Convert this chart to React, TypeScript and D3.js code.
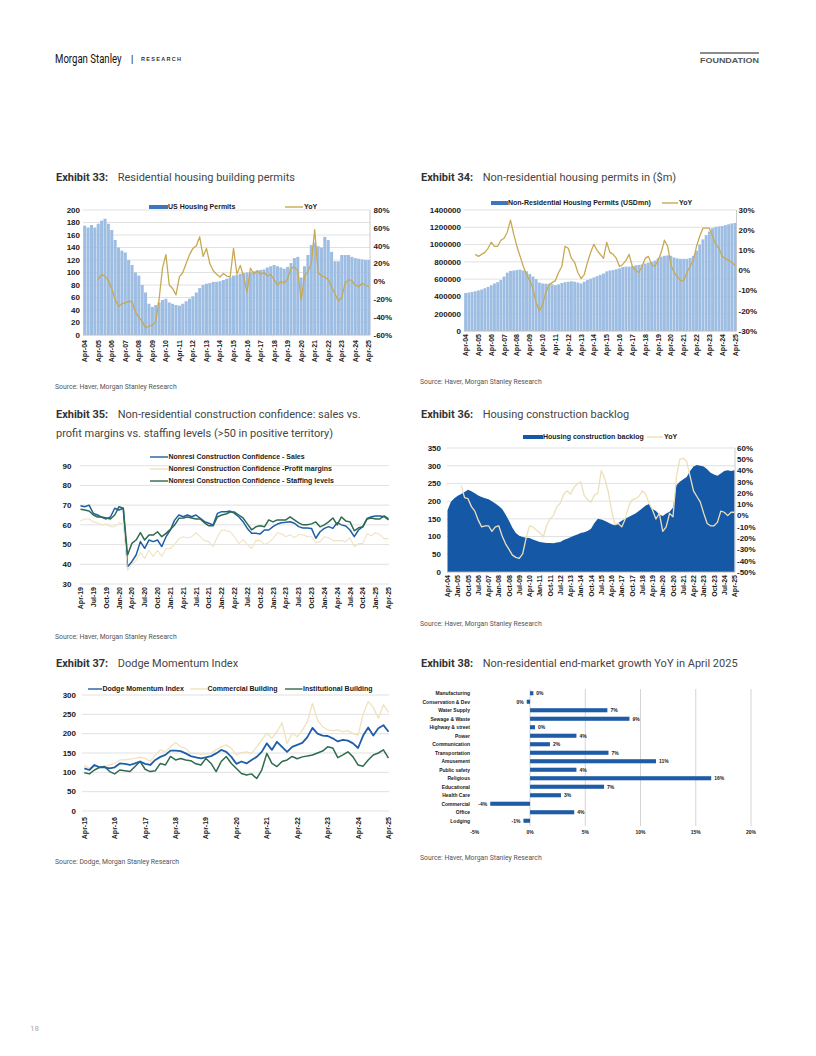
import React from 'react';
import * as d3 from 'd3';

type Pt = number | null;

const W = 816;
const H = 1056;
const FONT = "'Liberation Sans', Arial, sans-serif";
const TITLE_FONT = "Roboto, 'Noto Sans', 'Liberation Sans', sans-serif";
const GRID = '#d9d9d9';
const INK = '#1a1a1a';

// ---------- Exhibit 33: residential permits (quarterly, Apr-04 .. Apr-25) ----------
const permits33 = [
  175, 172, 176,
  172, 178, 183, 186, 178, 168, 152, 140, 135, 132, 120, 112, 100, 95, 80, 68,
  50, 45, 48, 52, 56, 58, 52, 50, 48, 47, 50, 54, 58, 62, 68, 75,
  80, 82, 83, 85, 85, 86, 88, 90, 92, 95, 96, 98, 99, 100, 100, 102,
  103, 104, 105, 108, 110, 112, 110, 108, 106, 109, 115, 123, 125, 92, 110, 128,
  144, 148, 142, 140, 157, 152, 133, 118, 118, 128, 128, 128, 125, 123, 122, 121,
  120, 120,
];
const yoy33: Pt[] = [
  null, null, null,
  null, 2, 8, 6, 1, -8, -20, -28, -25, -24, -22, -23, -34, -40, -45, -52,
  -50, -49, -45, -20, 15, 30, -4, -8, -15, 5, 10, 20, 30, 37, 40, 50,
  28, 37, 20, 12, 8, 5, 9, 6, 5, 37, 8, 18, 5, -12, 15, 8,
  12, 8, 10, 6, 8, 2, -4, 0, -2, 3, 15, 16, 12, -21, 6, 11,
  20, 58, 10, 6, 5, 2, -6, -14, -22, -18, -2, 2, 1, -4, -6, -2,
  -4, -6,
];
const yearLabels04 = [
  'Apr-04', 'Apr-05', 'Apr-06', 'Apr-07', 'Apr-08', 'Apr-09', 'Apr-10', 'Apr-11',
  'Apr-12', 'Apr-13', 'Apr-14', 'Apr-15', 'Apr-16', 'Apr-17', 'Apr-18', 'Apr-19',
  'Apr-20', 'Apr-21', 'Apr-22', 'Apr-23', 'Apr-24', 'Apr-25',
];

// ---------- Exhibit 34: non-residential permits, USDmn in thousands (quarterly) ----------
const nonResPermits34k = [
  440, 445, 452,
  460, 470, 480, 495, 510, 530, 550, 565, 590, 630, 675, 695, 700, 705, 710, 700,
  690, 660, 630, 600, 560, 550, 548, 545, 540, 530, 540, 555, 565, 570, 575, 570,
  560, 550, 570, 590, 605, 620, 635, 650, 665, 690, 700, 705, 715, 725, 740, 745,
  745, 750, 760, 765, 770, 780, 790, 800, 815, 840, 860, 870, 875, 870, 850, 840,
  835, 835, 835, 845, 870, 930, 1000, 1060, 1110, 1150, 1190, 1205, 1210, 1215, 1225, 1235,
  1245, 1250,
];
const yoy34: Pt[] = [
  null, null, null,
  8, 7, 8, 9, 11, 14, 12, 12, 15, 16, 19, 25, 18, 12, 7, 2,
  -2, -5, -9, -16, -20, -17, -11, -7, -6, -5, -1, 2, 12, 11, 6, 4,
  -1, -4, -2, 4, 9, 13, 10, 8, 6, 14, 9, 8, 6, 2, 3, 5,
  8, 2, 0, -1, 2, 6, 7, 3, 2, 5, 9, 15, 12, 3, -1, -3,
  -5, -5, -1, 2, 5, 12, 17, 21, 21, 21, 17, 13, 11, 7, 6, 5,
  4, 2.5,
];

// ---------- Exhibit 35: construction confidence (monthly, Apr-19 .. Apr-25) ----------
const sales35 = [
  69.7, 69.2, 70, 65.8, 65, 63.8, 63, 64, 68.4, 67.5, 68.4, 38.8, 41.3, 44.7, 51.5, 48.1,
  52.3, 51.5, 52.3, 49, 54, 57.4, 62.4, 65, 64.1, 65, 64.1, 65, 63.3, 61.6, 60.8, 59.9,
  65.8, 66.7, 66.7, 67, 65.8, 64.1, 61.6, 58.2, 55.7, 55.7, 55.4, 57.4, 57.4, 59.1, 60.4, 61.1,
  61.3, 61.6, 60.8, 59.1, 58.4, 58.4, 58.2, 53.2, 56.5, 58.2, 59.1, 58.2, 61.1, 60, 59.4, 57.4,
  54, 57.4, 59.1, 63.3, 64.1, 64.5, 64.5, 64.1, 62.5,
];
const profit35 = [
  62, 63, 63, 61.5, 61, 60, 60.5, 59, 59, 61, 60.5, 37, 40, 42, 46, 43,
  47, 44, 47, 44, 48, 48, 50, 53, 54, 53.5, 54, 56, 54, 52, 51.5, 49,
  54, 57.5, 57, 56.5, 54, 50.5, 52.5, 50, 48, 52, 52, 50, 51, 53, 56, 55.5,
  54, 55, 53.5, 55, 55, 54, 54, 51, 51.5, 54, 53.5, 52, 52, 52, 51.5, 53.5,
  49, 50.5, 50.5, 55.5, 54.5, 56, 55, 53, 53,
];
const staffing35 = [
  67.9, 67.5, 67, 65, 64, 64, 63.5, 63, 65, 69.2, 68.4, 44.7, 50.6, 52.3, 56, 52.3,
  54.8, 54.8, 56.5, 54, 55.7, 57.7, 59.9, 63.3, 63.5, 64, 63.5, 63, 63, 61, 59.5, 59.5,
  64, 65, 65.5, 66.5, 66.5, 65, 63.5, 60.5, 57.5, 59, 59.5, 59, 62.5, 61.5, 62.5, 62.5,
  62.5, 64, 62.5, 61, 60, 60, 60.5, 61.5, 59, 60, 61.5, 63.5, 60, 64, 62, 61.5,
  57, 58.5, 59, 63, 63.5, 63, 63, 64.5, 63,
];
const quarterLabels35 = [
  'Apr-19', 'Jul-19', 'Oct-19', 'Jan-20', 'Apr-20', 'Jul-20', 'Oct-20', 'Jan-21', 'Apr-21',
  'Jul-21', 'Oct-21', 'Jan-22', 'Apr-22', 'Jul-22', 'Oct-22', 'Jan-23', 'Apr-23', 'Jul-23',
  'Oct-23', 'Jan-24', 'Apr-24', 'Jul-24', 'Oct-24', 'Jan-25', 'Apr-25',
];

// ---------- Exhibit 36: housing construction backlog (quarterly) ----------
const backlog36 = [
  174, 198, 208, 215, 220, 226, 232, 228, 222, 216, 212, 208, 205, 200, 193, 186, 178, 162, 145, 125,
  110, 102, 99, 97, 96, 92, 88, 85, 83, 82, 82, 81, 83, 85, 90, 94, 98, 102, 106, 110,
  112, 116, 122, 138, 150, 148, 145, 140, 135, 132, 138, 145, 150, 155, 160, 165, 172, 180, 188, 192,
  178, 172, 162, 158, 165, 170, 182, 245, 255, 262, 268, 285, 298, 302, 300, 298, 290, 280, 275, 272,
  278, 285, 287, 285, 287,
];
const yoy36: Pt[] = [
  null, null, null, null, 27, 16, 15, 8, 4, -4, -10, -9, -9, -14, -10, -9, -18, -25, -30, -35,
  -37, -38, -34, -20, -9, -10, -13, -15, -19, -9, -3, 0, 8, 11, 19, 22, 19, 25, 28, 30,
  18, 14, 12, 18, 20, 40, 33, 22, 5, -8, -7, -10, -3, 8, 14, 15, 17, 22, 19, 11,
  5, -3, 2, -14, -10, 2, -1, 35, 50, 51, 48, 35, 22, 17, 12, 2, -7, -9, -9, -6,
  4, 3, 0, 3, 3,
];
const nineMonthLabels36 = [
  'Apr-04', 'Jan-05', 'Oct-05', 'Jul-06', 'Apr-07', 'Jan-08', 'Oct-08', 'Jul-09', 'Apr-10',
  'Jan-11', 'Oct-11', 'Jul-12', 'Apr-13', 'Jan-14', 'Oct-14', 'Jul-15', 'Apr-16', 'Jan-17',
  'Oct-17', 'Jul-18', 'Apr-19', 'Jan-20', 'Oct-20', 'Jul-21', 'Apr-22', 'Jan-23', 'Oct-23',
  'Jul-24', 'Apr-25',
];

// ---------- Exhibit 37: Dodge Momentum Index (every 2 months, Apr-15 .. Apr-25) ----------
const dodge37 = [
  110, 106, 119, 113, 113, 110, 113, 123, 122, 119, 123, 128, 122, 119, 132, 140, 145, 156, 156, 155,
  149, 142, 139, 136, 139, 142, 149, 158, 153, 140, 122, 128, 123, 132, 140, 153, 175, 158, 179, 166,
  153, 166, 171, 176, 191, 215, 200, 195, 194, 188, 180, 184, 182, 175, 163, 195, 216, 195, 214, 222,
  205,
];
const commercial37 = [
  119, 110, 118, 112, 115, 119, 123, 132, 132, 134, 136, 139, 136, 128, 145, 158, 153, 166, 177, 166,
  162, 149, 149, 147, 147, 149, 158, 166, 171, 162, 145, 151, 153, 149, 166, 184, 201, 188, 205, 228,
  175, 201, 192, 209, 231, 278, 235, 218, 210, 208, 210, 205, 208, 200, 196, 250, 283, 268, 240, 275,
  255,
];
const institutional37 = [
  99, 96, 106, 113, 115, 102, 96, 106, 104, 102, 115, 128, 108, 102, 104, 123, 119, 141, 132, 136,
  132, 130, 122, 119, 136, 123, 102, 128, 141, 123, 110, 97, 93, 96, 84, 106, 149, 123, 115, 128,
  132, 141, 135, 140, 142, 145, 150, 155, 166, 163, 138, 145, 153, 140, 119, 116, 132, 145, 150, 158,
  137,
];
const yearLabels15 = [
  'Apr-15', 'Apr-16', 'Apr-17', 'Apr-18', 'Apr-19', 'Apr-20', 'Apr-21', 'Apr-22', 'Apr-23',
  'Apr-24', 'Apr-25',
];

// ---------- Exhibit 38: end-market growth YoY, April 2025 ----------
const endMarkets38 = [
  'Manufacturing', 'Conservation & Dev', 'Water Supply', 'Sewage & Waste', 'Highway & street',
  'Power', 'Communication', 'Transportation', 'Amusement', 'Public safety', 'Religious',
  'Educational', 'Health Care', 'Commercial', 'Office', 'Lodging',
];
const growth38 = [0.3, -0.3, 7.0, 9.0, 0.45, 4.2, 1.8, 7.1, 11.4, 4.2, 16.4, 6.7, 2.8, -3.6, 4.0, -0.6];
const xTicks38 = [-5, 0, 5, 10, 15, 20];

const tickStyle: React.CSSProperties = { fontFamily: FONT, fontSize: 8, fontWeight: 700, fill: INK };
const xTickStyle: React.CSSProperties = { fontFamily: FONT, fontSize: 7, fontWeight: 700, fill: INK };
const legendStyle: React.CSSProperties = { fontFamily: FONT, fontSize: 7, fontWeight: 700, fill: INK };

const RotLabel = ({ x, y, text }: { x: number; y: number; text: string }) => (
  <text transform={`translate(${x + 2.5},${y}) rotate(-90)`} textAnchor="end" style={xTickStyle}>
    {text}
  </text>
);

const Title = ({ x, y, num, x2, text }: { x: number; y: number; num: number; x2: number; text: string }) => (
  <text x={x} y={y} style={{ fontFamily: TITLE_FONT, fontSize: 11, fill: '#454545' }}>
    <tspan style={{ fontWeight: 700, fill: '#333' }}>{`Exhibit ${num}:`}</tspan>
    <tspan x={x2}>{text}</tspan>
  </text>
);

const Source = ({ x, y, text }: { x: number; y: number; text: string }) => (
  <text x={x} y={y} style={{ fontFamily: TITLE_FONT, fontSize: 6.8, fill: '#555' }}>{text}</text>
);

interface BarLineProps {
  bars: number[];
  yoy: Pt[];
  cx0: number; cx1: number; px0: number; px1: number; top: number; bottom: number;
  yDomain: [number, number]; yStep: number; yFmt: (v: number) => string;
  y2Domain: [number, number]; y2Step: number;
  leftX: number; rightX: number;
  xLabels: string[]; labelEvery: number; labelTop: number;
  barColor: string; barFrac: number; legendColor: string; lineColor: string; lineWidth: number;
  asArea?: boolean;
  legend: { rx: number; rw: number; lx: number; lw: number; y: number; text: string };
}

function BarLine(p: BarLineProps) {
  const n = p.bars.length;
  const x = d3.scaleLinear().domain([0, n - 1]).range([p.cx0, p.cx1]);
  const y = d3.scaleLinear().domain(p.yDomain).range([p.bottom, p.top]);
  const y2 = d3.scaleLinear().domain(p.y2Domain).range([p.bottom, p.top]);
  const bw = (x(1) - x(0)) * p.barFrac;
  const yTicks = d3.range(p.yDomain[0], p.yDomain[1] + 1e-6, p.yStep);
  const y2Ticks = d3.range(p.y2Domain[0], p.y2Domain[1] + 1e-6, p.y2Step);
  const line = d3.line<Pt>()
    .defined(d => d !== null)
    .x((_, i) => x(i))
    .y(d => y2(d as number));
  const area = d3.area<number>()
    .x((_, i) => x(i))
    .y0(p.bottom)
    .y1(d => y(d));
  const lg = p.legend;
  return (
    <g>
      {yTicks.map(t => (
        <line key={`g${t}`} x1={p.px0} x2={p.px1} y1={y(t)} y2={y(t)} stroke={GRID} strokeWidth={0.8} />
      ))}
      {p.asArea ? (
        <path d={area(p.bars) || ''} fill={p.barColor} />
      ) : (
        p.bars.map((v, i) => (
          <rect key={i} x={x(i) - bw / 2} y={y(v)} width={bw} height={p.bottom - y(v)} fill={p.barColor} />
        ))
      )}
      <path d={line(p.yoy) || ''} fill="none" stroke={p.lineColor} strokeWidth={p.lineWidth} strokeLinejoin="round" />
      <line x1={p.px1} x2={p.px1} y1={p.top} y2={p.bottom} stroke="#bfbfbf" strokeWidth={0.8} />
      <line x1={p.px0} x2={p.px1} y1={p.bottom} y2={p.bottom} stroke="#bfbfbf" strokeWidth={0.8} />
      {yTicks.map(t => (
        <text key={`l${t}`} x={p.leftX} y={y(t)} dy="0.35em" textAnchor="end" style={tickStyle}>{p.yFmt(t)}</text>
      ))}
      {y2Ticks.map(t => (
        <text key={`r${t}`} x={p.rightX} y={y2(t)} dy="0.35em" style={tickStyle}>{`${t}%`}</text>
      ))}
      {p.xLabels.map((lab, k) => (
        <RotLabel key={lab} x={x(k * p.labelEvery)} y={p.labelTop} text={lab} />
      ))}
      <rect x={lg.rx} y={lg.y - 2} width={lg.rw} height={4} fill={p.legendColor} />
      <text x={lg.rx + lg.rw} y={lg.y} dy="0.35em" style={legendStyle}>{lg.text}</text>
      <line x1={lg.lx} x2={lg.lx + lg.lw} y1={lg.y} y2={lg.y} stroke={p.lineColor} strokeWidth={1.4} />
      <text x={lg.lx + lg.lw + 1} y={lg.y} dy="0.35em" style={legendStyle}>YoY</text>
    </g>
  );
}

interface Series { name: string; values: number[]; color: string; width: number; lx: number; ly: number; lw: number; }

interface LinesProps {
  series: Series[];
  cx0: number; cx1: number; px0: number; px1: number; top: number; bottom: number;
  yDomain: [number, number]; yStep: number; leftX: number;
  xLabels: string[]; labelEvery: number; labelTop: number;
}

function LinesChart(p: LinesProps) {
  const n = p.series[0].values.length;
  const x = d3.scaleLinear().domain([0, n - 1]).range([p.cx0, p.cx1]);
  const y = d3.scaleLinear().domain(p.yDomain).range([p.bottom, p.top]);
  const yTicks = d3.range(p.yDomain[0], p.yDomain[1] + 1e-6, p.yStep);
  const line = d3.line<number>().x((_, i) => x(i)).y(d => y(d));
  return (
    <g>
      {yTicks.map(t => (
        <line key={`g${t}`} x1={p.px0} x2={p.px1} y1={y(t)} y2={y(t)} stroke={GRID} strokeWidth={0.8} />
      ))}
      {yTicks.map(t => (
        <text key={`l${t}`} x={p.leftX} y={y(t)} dy="0.35em" textAnchor="end" style={tickStyle}>{t}</text>
      ))}
      {p.series.map(s => (
        <path key={s.name} d={line(s.values) || ''} fill="none" stroke={s.color} strokeWidth={s.width} strokeLinejoin="round" />
      ))}
      {p.xLabels.map((lab, k) => (
        <RotLabel key={lab} x={x(k * p.labelEvery)} y={p.labelTop} text={lab} />
      ))}
      {p.series.map(s => (
        <g key={`lg${s.name}`}>
          <line x1={s.lx} x2={s.lx + s.lw} y1={s.ly} y2={s.ly} stroke={s.color} strokeWidth={1.4} />
          <text x={s.lx + s.lw + 0.5} y={s.ly} dy="0.35em" style={legendStyle}>{s.name}</text>
        </g>
      ))}
    </g>
  );
}

function EndMarkets() {
  const x = d3.scaleLinear().domain([-5, 20]).range([474.8, 751]);
  const y = d3.scaleBand<string>().domain(endMarkets38).range([689, 825]).paddingInner(0.52).paddingOuter(0.26);
  const small: React.CSSProperties = { fontFamily: FONT, fontSize: 5, fontWeight: 700, fill: INK };
  return (
    <g>
      {xTicks38.filter(t => t >= 0).map(t => (
        <line key={`g${t}`} x1={x(t)} x2={x(t)} y1={689} y2={826} stroke="#cfcfcf" strokeWidth={0.9} />
      ))}
      {endMarkets38.map((c, i) => {
        const v = growth38[i];
        const yy = (y(c) as number);
        const bh = y.bandwidth();
        const x0 = x(Math.min(0, v));
        const x1 = x(Math.max(0, v));
        const label = `${Math.round(v)}%`;
        return (
          <g key={c}>
            <text x={470} y={yy + bh / 2} dy="0.35em" textAnchor="end" style={small}>{c}</text>
            <rect x={x0} y={yy} width={x1 - x0} height={bh} fill="#1f5ca6" />
            <text
              x={v >= 0 ? x(v) + 3 : x(v) - 3}
              y={yy + bh / 2}
              dy="0.35em"
              textAnchor={v >= 0 ? 'start' : 'end'}
              style={small}
            >
              {label}
            </text>
          </g>
        );
      })}
      {xTicks38.map(t => (
        <text key={`t${t}`} x={x(t)} y={832} dy="0.35em" textAnchor="middle" style={small}>{`${t}%`}</text>
      ))}
    </g>
  );
}

const Header = () => (
  <g>
    <text transform="translate(55,63) scale(0.8,1)"
      style={{ fontFamily: TITLE_FONT, fontSize: 12, fill: '#111' }}>Morgan Stanley</text>
    <text x={131} y={62} style={{ fontFamily: FONT, fontSize: 9, fill: '#111' }}>|</text>
    <text x={141} y={61} textLength={40} lengthAdjust="spacing"
      style={{ fontFamily: FONT, fontSize: 5.5, fontWeight: 700, fill: '#333' }}>RESEARCH</text>
    <rect x={700} y={52} width={59} height={2} fill="#8c8c8c" />
    <text x={700} y={63} textLength={59} lengthAdjust="spacingAndGlyphs"
      style={{ fontFamily: FONT, fontSize: 8, fontWeight: 700, fill: '#555' }}>FOUNDATION</text>
  </g>
);

export default function App() {
  const gold = '#c8a953';
  const blueLine = '#1f5ea8';
  const green = '#2e6b4f';
  const pale = '#efe3c3';
  return (
    <div style={{ position: 'absolute', left: 0, top: 0, width: W, height: H, background: '#fff' }}>
      <svg width={W} height={H} viewBox={`0 0 ${W} ${H}`} style={{ display: 'block' }}>
        <Header />

        <Title x={56} y={181} num={33} x2={117.7} text="Residential housing building permits" />
        <BarLine
          bars={permits33} yoy={yoy33}
          cx0={84.7} cx1={368.8} px0={83} px1={370} top={210} bottom={335}
          yDomain={[0, 200]} yStep={20} yFmt={v => String(v)}
          y2Domain={[-60, 80]} y2Step={20}
          leftX={80} rightX={373.5}
          xLabels={yearLabels04} labelEvery={4} labelTop={340}
          barColor="#9dbde3" barFrac={0.9} legendColor="#3d76be" lineColor={gold} lineWidth={1.3}
          legend={{ rx: 149, rw: 19, lx: 285, lw: 18, y: 207, text: 'US Housing Permits' }}
        />
        <Source x={55} y={389} text="Source: Haver, Morgan Stanley Research" />

        <Title x={421} y={181} num={34} x2={482.7} text="Non-residential housing permits in ($m)" />
        <BarLine
          bars={nonResPermits34k} yoy={yoy34}
          cx0={465.6} cx1={735} px0={464} px1={736.5} top={210} bottom={331}
          yDomain={[0, 1400]} yStep={200} yFmt={v => String(v * 1000)}
          y2Domain={[-30, 30]} y2Step={10}
          leftX={461} rightX={738.5}
          xLabels={yearLabels04} labelEvery={4} labelTop={334}
          barColor="#9dbde3" barFrac={0.9} legendColor="#3d76be" lineColor={gold} lineWidth={1.3}
          legend={{ rx: 491, rw: 17, lx: 662, lw: 16, y: 203, text: 'Non-Residential Housing Permits (USDmn)' }}
        />
        <Source x={420} y={384} text="Source: Haver, Morgan Stanley Research" />

        <Title x={56} y={418} num={35} x2={117.7} text="Non-residential construction confidence: sales vs." />
        <text x={56} y={437} style={{ fontFamily: TITLE_FONT, fontSize: 11, fill: '#454545' }}>
          profit margins vs. staffing levels (&gt;50 in positive territory)
        </text>
        <LinesChart
          series={[
            { name: 'Nonresi Construction Confidence - Sales', values: sales35, color: blueLine, width: 1.5, lx: 150, ly: 457, lw: 18 },
            { name: 'Nonresi Construction Confidence -Profit margins', values: profit35, color: pale, width: 1.1, lx: 150, ly: 469, lw: 18 },
            { name: 'Nonresi Construction Confidence - Staffing levels', values: staffing35, color: green, width: 1.5, lx: 150, ly: 481, lw: 18 },
          ]}
          cx0={80.5} cx1={388.5} px0={80} px1={389} top={465.7} bottom={584}
          yDomain={[30, 90]} yStep={10} leftX={71.5}
          xLabels={quarterLabels35} labelEvery={3} labelTop={587}
        />
        <Source x={55} y={639} text="Source: Haver, Morgan Stanley Research" />

        <Title x={421} y={418} num={36} x2={482.7} text="Housing construction backlog" />
        <BarLine
          bars={backlog36} yoy={yoy36}
          cx0={447.5} cx1={734.5} px0={447} px1={735} top={448} bottom={572}
          yDomain={[0, 350]} yStep={50} yFmt={v => String(v)}
          y2Domain={[-50, 60]} y2Step={10}
          leftX={441} rightX={737}
          xLabels={nineMonthLabels36} labelEvery={3} labelTop={575}
          barColor="#1558a6" barFrac={1} legendColor="#1558a6" lineColor="#ece0bb" lineWidth={1.3}
          asArea
          legend={{ rx: 523, rw: 20, lx: 647, lw: 16, y: 437, text: 'Housing construction backlog' }}
        />
        <Source x={420} y={626} text="Source: Haver, Morgan Stanley Research" />

        <Title x={56} y={667} num={37} x2={117.7} text="Dodge Momentum Index" />
        <LinesChart
          series={[
            { name: 'Commercial Building', values: commercial37, color: '#f0e2bd', width: 1.3, lx: 190, ly: 689, lw: 17 },
            { name: 'Institutional Building', values: institutional37, color: green, width: 1.5, lx: 285, ly: 689, lw: 17.5 },
            { name: 'Dodge Momentum Index', values: dodge37, color: blueLine, width: 1.8, lx: 88, ly: 689, lw: 14 },
          ]}
          cx0={84.3} cx1={388.5} px0={82} px1={389} top={695} bottom={811}
          yDomain={[0, 300]} yStep={50} leftX={76}
          xLabels={yearLabels15} labelEvery={6} labelTop={817}
        />
        <Source x={55} y={864} text="Source: Dodge, Morgan Stanley Research" />

        <Title x={421} y={667} num={38} x2={482.7} text="Non-residential end-market growth YoY in April 2025" />
        <EndMarkets />
        <Source x={420} y={860} text="Source: Haver, Morgan Stanley Research" />

        <text x={30} y={1031} style={{ fontFamily: TITLE_FONT, fontSize: 8, fill: '#aaa' }}>18</text>
      </svg>
    </div>
  );
}
